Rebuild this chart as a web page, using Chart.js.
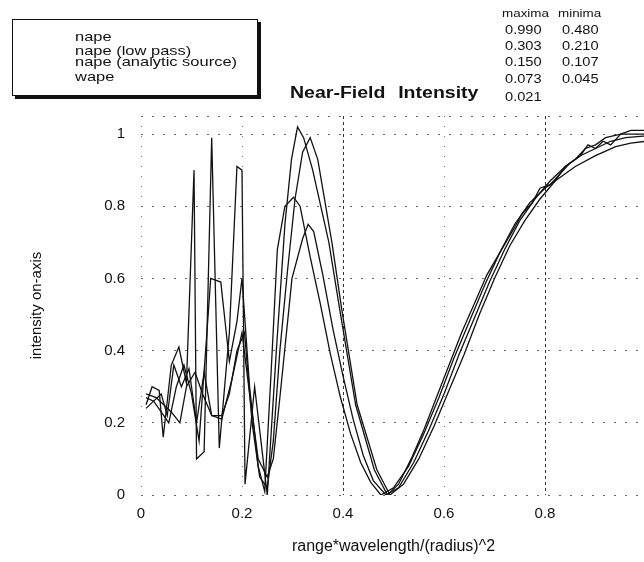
<!DOCTYPE html>
<html>
<head>
<meta charset="utf-8">
<script src="https://cdn.jsdelivr.net/npm/chart.js@4.4.1/dist/chart.umd.min.js"></script>
<style>
  html, body { margin: 0; padding: 0; background: #fff; overflow: hidden; }
  #wrap { position: relative; width: 660px; height: 562px; }
  canvas { position: absolute; left: 0; top: 0; }
  .t { position: absolute; font-family: "Liberation Sans", Arial, Helvetica, sans-serif; color: #111;
       white-space: nowrap; line-height: 1; transform-origin: 0 0; }
  #legendBox { position: absolute; left: 12px; top: 19px; width: 244px; height: 75px;
       border: 1px solid #111; box-shadow: 3px 3px 0 #111; background: #fff; }
</style>
</head>
<body>
<div id="wrap">
  <canvas id="c" width="660" height="562"></canvas>
  <div id="legendBox"></div>
  <div id="overlay"></div>
</div>
<script>
// ---------- data ----------
const seriesNames = ["nape", "nape (low pass)", "nape (analytic source)", "wape"];

const napeX = [0.010,0.022,0.036,0.044,0.060,0.075,0.090,0.105,0.110,0.125,0.140,0.155,0.175,0.190,0.200,0.206,0.225,0.240,0.250,0.268,0.285,0.298,0.310,0.322,0.340,0.372,0.394,0.425,0.462,0.488,0.510,0.535,0.560,0.585,0.610,0.635,0.660,0.685,0.710,0.735,0.755,0.775,0.790,0.810,0.830,0.850,0.870,0.885,0.900,0.915,0.930,0.950,0.970,0.990,1.000];
const napeY = [0.25,0.30,0.29,0.16,0.36,0.41,0.31,0.90,0.10,0.12,0.99,0.13,0.45,0.91,0.90,0.03,0.30,0.12,0.00,0.40,0.75,0.93,1.02,0.99,0.90,0.70,0.51,0.25,0.07,0.00,0.03,0.10,0.18,0.27,0.36,0.45,0.53,0.61,0.67,0.73,0.78,0.81,0.85,0.86,0.89,0.92,0.94,0.97,0.96,0.98,0.97,1.00,1.01,1.01,1.01];

const lowX = [0.010,0.025,0.040,0.055,0.070,0.085,0.100,0.115,0.128,0.138,0.158,0.175,0.190,0.200,0.215,0.232,0.245,0.258,0.270,0.285,0.302,0.315,0.335,0.355,0.375,0.395,0.415,0.435,0.455,0.475,0.500,0.530,0.560,0.590,0.620,0.650,0.680,0.710,0.740,0.770,0.800,0.820,0.840,0.860,0.880,0.900,0.920,0.950,0.980,1.000];
const lowY = [0.27,0.26,0.23,0.20,0.30,0.36,0.28,0.15,0.40,0.60,0.59,0.37,0.48,0.60,0.30,0.08,0.01,0.35,0.68,0.80,0.825,0.80,0.66,0.53,0.39,0.27,0.17,0.09,0.035,0.00,0.02,0.08,0.17,0.27,0.38,0.48,0.58,0.67,0.75,0.81,0.85,0.87,0.91,0.93,0.96,0.97,0.99,1.00,1.00,1.00];

const anaX = [0.010,0.025,0.040,0.052,0.065,0.080,0.095,0.110,0.125,0.140,0.160,0.175,0.190,0.205,0.220,0.235,0.250,0.262,0.275,0.290,0.305,0.320,0.335,0.350,0.378,0.398,0.428,0.467,0.493,0.520,0.550,0.580,0.610,0.640,0.670,0.700,0.730,0.760,0.790,0.820,0.860,0.900,0.940,0.970,1.000];
const anaY = [0.24,0.26,0.28,0.22,0.36,0.30,0.35,0.20,0.34,0.22,0.22,0.28,0.40,0.45,0.20,0.05,0.02,0.15,0.40,0.62,0.82,0.95,0.99,0.93,0.70,0.51,0.25,0.07,0.00,0.03,0.10,0.19,0.29,0.39,0.50,0.60,0.69,0.76,0.82,0.87,0.91,0.94,0.965,0.975,0.98];

const wapeX = [0.010,0.030,0.045,0.060,0.077,0.090,0.107,0.122,0.140,0.160,0.180,0.200,0.215,0.232,0.250,0.262,0.275,0.299,0.320,0.331,0.342,0.360,0.380,0.400,0.420,0.440,0.460,0.485,0.510,0.540,0.570,0.600,0.630,0.660,0.690,0.720,0.750,0.780,0.810,0.840,0.870,0.900,0.930,0.960,1.000];
const wapeY = [0.28,0.27,0.25,0.23,0.20,0.30,0.34,0.28,0.22,0.21,0.32,0.45,0.28,0.10,0.05,0.10,0.27,0.60,0.71,0.75,0.73,0.61,0.46,0.33,0.21,0.11,0.04,0.00,0.02,0.09,0.18,0.28,0.39,0.49,0.59,0.68,0.76,0.82,0.87,0.91,0.94,0.96,0.98,0.99,0.995];

const xTicks = [0, 0.2, 0.4, 0.6, 0.8];
const yTicks = [0, 0.2, 0.4, 0.6, 0.8, 1];

const maximaVals = ["0.990", "0.303", "0.150", "0.073", "0.021"];
const minimaVals = ["0.480", "0.210", "0.107", "0.045"];

const chartTitle = "Near-Field Intensity";
const xTitle = "range*wavelength/(radius)^2";
const yTitle = "intensity on-axis";

// ---------- build chart ----------
function pts(xs, ys) { return xs.map((x, i) => ({ x: x, y: ys[i] })); }
const allX = [napeX, lowX, anaX, wapeX];
const allY = [napeY, lowY, anaY, wapeY];

const datasets = seriesNames.map((name, i) => ({
  label: name,
  data: pts(allX[i], allY[i]),
  showLine: true,
  borderColor: '#111',
  borderWidth: 1.3,
  pointRadius: 0,
  tension: 0,
  fill: false
}));

function near(v, list) { return list.some(t => Math.abs(t - v) < 1e-6); }
function fmt(v) { return String(Number(v.toFixed(1))); }
function isMajorX(ctx) {
  return ctx.tick && (Math.abs(ctx.tick.value - 0.4) < 1e-6 || Math.abs(ctx.tick.value - 0.8) < 1e-6);
}

new Chart(document.getElementById('c'), {
  type: 'scatter',
  data: { datasets },
  options: {
    responsive: false,
    animation: false,
    devicePixelRatio: 1,
    layout: { padding: { top: 116, right: 14, bottom: 0, left: 0 } },
    plugins: { legend: { display: false }, tooltip: { enabled: false }, title: { display: false } },
    scales: {
      x: {
        type: 'linear', min: 0, max: 1.0,
        afterFit: s => { s.height = 67; },
        ticks: {
          stepSize: 0.2, padding: 10, color: '#111',
          font: { family: '"Liberation Sans", Arial, sans-serif', size: 15 },
          callback: v => near(v, xTicks) ? fmt(v) : ''
        },
        grid: {
          drawTicks: false,
          color: ctx => isMajorX(ctx) ? '#333' : '#777',
          lineWidth: 1
        },
        border: {
          display: false,
          dash: ctx => isMajorX(ctx) ? [3, 3] : [1, 9]
        },
        title: {
          display: true, text: xTitle, color: '#111',
          font: { family: '"Liberation Sans", Arial, sans-serif', size: 16 },
          padding: { top: 0, bottom: 6 }
        }
      },
      y: {
        type: 'linear', min: 0, max: 1.05,
        afterFit: s => { s.width = 141; },
        ticks: {
          stepSize: 0.2, padding: 16, color: '#111',
          font: { family: '"Liberation Sans", Arial, sans-serif', size: 15 },
          callback: v => near(v, yTicks) ? fmt(v) : ''
        },
        grid: { drawTicks: false, color: '#666', lineWidth: 1 },
        border: { display: false, dash: [2, 9] },
        title: {
          display: true, text: yTitle, color: '#111',
          font: { family: '"Liberation Sans", Arial, sans-serif', size: 15 },
          padding: { top: 28, bottom: 0 }
        }
      }
    }
  }
});

// ---------- overlay texts (legend list, title, maxima/minima table) ----------
const overlay = document.getElementById('overlay');
function addText(txt, left, baseline, size, opts) {
  opts = opts || {};
  const d = document.createElement('div');
  d.className = 't';
  d.textContent = txt;
  d.style.fontSize = size + 'px';
  if (opts.bold) d.style.fontWeight = 'bold';
  d.style.left = left + 'px';
  d.style.top = (baseline - 0.8465 * size) + 'px';
  d.style.transform = 'scaleX(' + (opts.sx || 1.22) + ')';
  if (opts.ws) d.style.wordSpacing = opts.ws + 'px';
  overlay.appendChild(d);
}
const legendBaselines = [41, 55, 66, 81];
seriesNames.forEach((n, i) => addText(n, 75, legendBaselines[i], 13.5));

addText(chartTitle, 290, 99, 16, { bold: true, ws: 6 });

addText("maxima", 502, 17, 11);
addText("minima", 558, 17, 11);
const rowBase = [34, 50, 66, 83, 101];
maximaVals.forEach((v, i) => addText(v, 505, rowBase[i], 12));
minimaVals.forEach((v, i) => addText(v, 562, rowBase[i], 12));
</script>
</body>
</html>
